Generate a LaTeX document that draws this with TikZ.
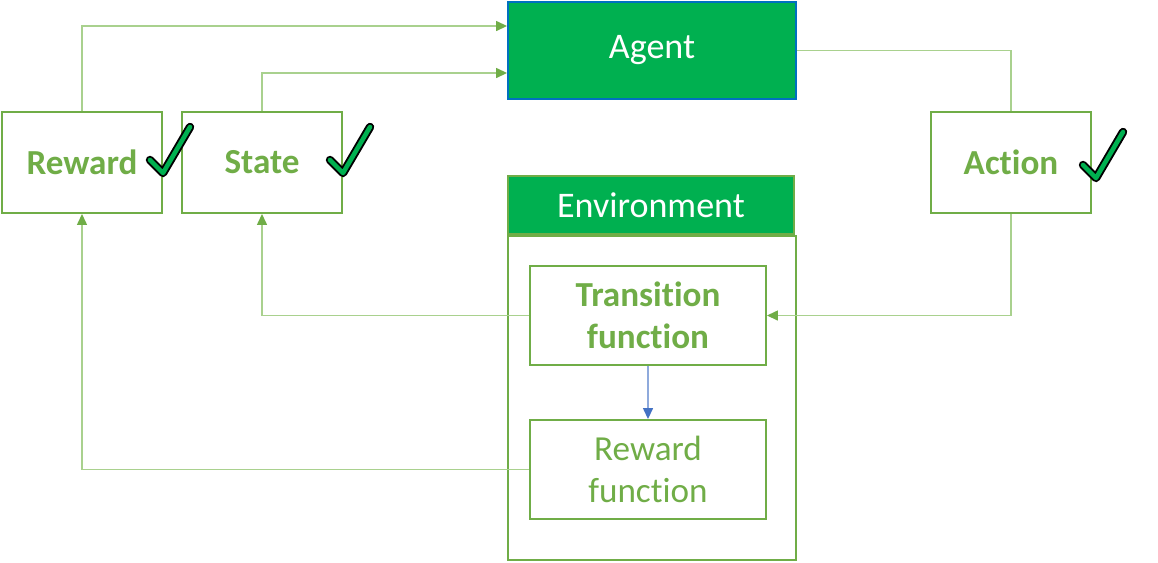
\documentclass[tikz,border=0pt]{standalone}
\usepackage{fontspec}
\setmainfont{Carlito}[Ligatures=NoCommon]
\usepackage{tikz}
\usetikzlibrary{arrows.meta,positioning,calc}
\definecolor{boxgreen}{HTML}{70AD47}
\definecolor{linegreen}{HTML}{A9D18E}
\definecolor{fillgreen}{HTML}{00B050}
\definecolor{agentblue}{HTML}{0070C0}
\definecolor{lineblue}{HTML}{8FAADC}
\definecolor{tipblue}{HTML}{4472C4}

\tikzset{
  signal/.style={draw=boxgreen, line width=1.1pt, fill=white, text=boxgreen,
    font=\fontsize{20}{24}\selectfont\bfseries, minimum width=3.2cm, minimum height=2.02cm},
  funcbox/.style={draw=boxgreen, line width=1.1pt, fill=white, text=boxgreen,
    font=\fontsize{20}{24}\selectfont, align=center, minimum width=4.72cm, minimum height=1.98cm},
  headbox/.style={fill=fillgreen, text=white, font=\fontsize{20.5}{24}\selectfont},
  flow/.style={draw=linegreen, line width=0.8pt,
    -{Triangle[length=0.22cm, width=0.2cm, color=boxgreen]}},
  plainflow/.style={draw=linegreen, line width=0.8pt},
  tickout/.style={draw=black, line width=4.8pt, line cap=round, line join=round},
  tickin/.style={draw=fillgreen, line width=2.6pt, line cap=round, line join=round}
}
\newcommand{\greentick}[1]{%
  \draw[tickout] #1 -- ++(13,13) -- ++(27,-46);
  \draw[tickin] #1 -- ++(13,13) -- ++(27,-46);}

\begin{document}
\begin{tikzpicture}[x=0.02cm, y=-0.02cm]
\useasboundingbox (0,0) rectangle (1158,562);

% agent and the three signals
\node[headbox, draw=agentblue, line width=1.1pt, minimum width=5.76cm, minimum height=1.94cm] (agent) at (652,50.5) {Agent};
\node[signal] (reward) at (82,162.5) {Reward};
\node[signal] (state) at (262,162.5) {State};
\node[signal] (action) at (1011,162.5) {Action};

% environment
\node[draw=boxgreen, line width=1.1pt, minimum width=5.76cm, minimum height=6.48cm] (envbody) at (652,398) {};
\node[headbox, draw=boxgreen, line width=1.1pt, minimum width=5.72cm, minimum height=1.16cm] (env) at (651,205) {Environment};
\node[funcbox, font=\fontsize{20}{24}\selectfont\bfseries] (trans) at (648,315.5) {Transition\\function};
\node[funcbox] (rfunc) at (648,469.5) {Reward\\function};

% connectors
\draw[flow] (reward.north) |- (agent.west |- 0,26);
\draw[flow] (state.north) |- (agent.west |- 0,73);
\draw[plainflow] (agent.east) -| (action.north);
\draw[flow] (action.south) |- (trans.east);
\draw[flow] (trans.west) -| (state.south);
\draw[flow] (rfunc.west) -| (reward.south);
\draw[draw=lineblue, line width=0.8pt, -{Triangle[length=0.22cm, width=0.2cm, color=tipblue]}] (trans.south) -- (rfunc.north);

% ticks
\greentick{(150,160)}
\greentick{(330,160)}
\greentick{(1083,165)}
\end{tikzpicture}
\end{document}
